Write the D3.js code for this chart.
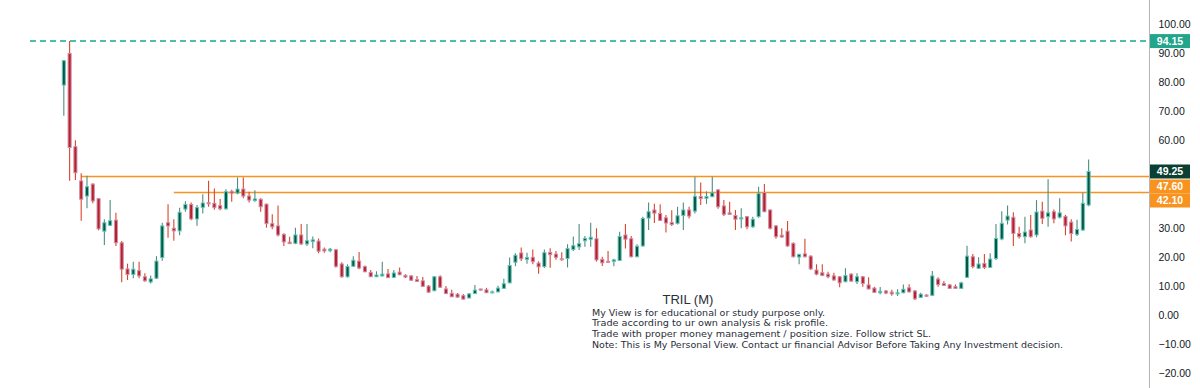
<!DOCTYPE html>
<html>
<head>
<meta charset="utf-8">
<script src="https://cdn.jsdelivr.net/npm/d3@7"></script>
<style>
  html, body { margin: 0; padding: 0; background: #ffffff; }
  svg { display: block; }
</style>
</head>
<body>
<div id="chart"></div>
<script>
// ---------------- DATA ----------------
const opens = [79.0,89.9,57.8,46.0,40.8,44.9,39.9,28.7,30.7,32.5,24.7,15.7,13.8,15.1,13.0,11.2,12.5,19.6,31.6,29.7,
28.8,36.3,37.9,32.9,36.9,38.5,38.3,37.5,36.4,42.4,41.8,43.2,40.8,39.2,39.7,38.0,31.3,30.5,27.6,24.9,
24.5,27.4,24.3,25.1,25.3,22.5,22.0,22.3,17.4,13.0,16.6,18.4,16.5,14.5,13.0,13.3,14.0,12.8,14.6,13.5,
13.3,12.0,11.6,9.8,8.2,13.0,8.8,7.3,7.0,6.5,5.7,7.2,8.8,8.5,7.5,7.8,9.0,10.9,18.0,21.2,
19.0,19.7,17.7,16.5,21.4,20.8,19.2,19.3,22.4,23.3,25.4,25.9,26.1,19.0,18.3,18.3,18.6,27.4,26.1,19.9,
23.6,33.2,36.0,34.8,33.3,31.7,31.4,34.1,36.0,35.6,40.6,40.0,40.6,42.9,37.4,35.0,34.1,32.9,33.7,30.2,
33.7,42.0,36.0,30.5,27.3,28.7,24.5,19.8,20.9,20.1,15.3,14.4,13.9,13.3,13.0,11.3,13.9,11.3,13.0,10.2,
9.1,7.5,8.1,7.7,7.1,7.5,9.2,8.1,5.9,6.7,6.6,12.2,10.7,10.2,9.6,9.0,12.8,19.9,15.9,17.6,
16.2,19.3,26.0,32.5,33.5,27.9,26.8,29.1,27.4,35.6,33.7,35.4,33.5,33.8,31.8,27.6,29.1,37.7];
const highs = [87.6,94.15,60.0,48.6,47.8,45.2,40.1,32.8,39.4,35.0,25.3,17.5,18.2,18.2,14.2,13.4,20.1,31.6,38.0,32.8,
36.8,39.0,38.6,37.7,41.4,46.1,43.4,39.8,43.1,43.0,47.2,47.2,42.3,42.8,40.0,38.2,34.5,37.5,28.0,26.8,
29.9,31.2,31.2,26.9,26.2,23.1,22.9,22.5,18.0,17.3,20.1,21.5,16.9,15.3,14.9,18.2,15.7,15.3,16.2,13.9,
13.5,13.3,12.9,10.2,13.3,13.5,9.8,8.5,7.4,7.1,7.3,10.2,8.9,9.2,8.3,9.9,12.3,19.6,21.1,23.1,
21.3,22.4,18.3,22.4,22.8,21.9,21.4,24.2,26.9,31.2,27.0,31.6,29.7,19.9,21.9,19.2,28.5,31.2,27.0,24.2,
33.7,38.6,38.1,38.0,34.3,35.9,37.1,38.6,37.1,47.4,45.5,42.4,47.4,43.1,39.4,38.8,36.0,36.6,33.9,33.7,
44.0,44.9,36.2,30.8,29.7,32.2,24.9,20.9,26.1,20.4,17.3,17.3,14.7,14.4,13.3,15.9,14.2,14.2,13.3,12.8,
9.6,9.5,8.4,8.5,8.7,10.3,10.4,8.4,7.5,7.0,15.0,12.8,11.5,10.4,10.3,11.3,23.7,20.8,19.7,20.8,
21.1,31.2,35.6,37.5,35.2,30.2,33.7,34.3,39.4,38.8,46.6,36.2,40.0,34.3,32.8,32.6,41.9,53.4];
const lows = [68.4,46.1,46.3,32.3,36.6,38.3,29.0,23.9,30.5,23.6,11.1,11.9,12.5,12.5,11.3,10.7,12.2,18.5,26.4,25.4,
27.3,35.4,32.5,30.6,34.8,37.1,36.1,35.9,36.1,38.8,41.4,40.0,38.6,38.8,35.4,29.9,29.4,26.9,23.6,24.3,
24.2,23.9,23.6,22.8,21.1,21.3,21.4,16.1,12.7,12.7,16.5,15.6,14.6,12.9,12.9,13.1,12.6,12.7,13.5,12.6,
11.6,11.3,9.6,7.5,8.0,9.1,7.1,6.0,5.8,5.2,5.6,7.1,8.3,7.4,7.2,7.7,8.9,10.8,16.6,18.4,
17.5,17.3,14.0,16.0,16.1,18.9,18.5,16.2,21.9,22.2,23.3,23.3,18.2,16.7,17.7,16.6,18.4,22.7,19.6,19.7,
23.3,29.1,31.5,32.2,28.2,30.5,31.0,29.1,33.1,34.8,37.7,38.1,40.4,36.4,33.9,34.3,29.1,29.7,29.4,29.9,
33.3,35.2,29.3,26.1,26.4,23.3,19.6,17.3,19.6,15.3,13.5,13.3,12.5,11.6,9.4,11.1,11.3,10.5,9.6,8.7,
7.5,7.0,7.0,6.5,6.4,7.3,7.6,5.0,5.7,6.1,6.4,9.6,9.8,8.8,8.9,8.8,12.6,15.9,15.7,15.7,
16.0,18.8,25.6,31.0,23.6,26.2,24.5,26.4,26.6,31.2,30.2,31.4,33.1,27.3,25.1,27.0,28.8,37.3];
const closes = [87.4,57.5,48.8,39.7,44.0,39.1,29.5,31.6,32.3,24.7,15.6,13.8,15.6,13.3,11.6,12.3,18.4,30.5,30.5,28.8,
35.2,37.9,32.9,36.8,38.4,38.1,36.8,36.4,42.3,41.8,43.2,40.8,39.4,39.8,37.1,31.3,30.2,27.4,25.0,24.4,
27.4,24.3,25.4,25.7,21.8,21.9,22.5,16.6,13.0,16.5,18.7,16.0,14.7,13.0,13.6,13.9,12.7,14.3,13.7,12.9,
11.8,11.4,9.7,7.7,13.0,9.4,7.2,6.1,6.0,5.3,7.1,8.4,8.4,7.5,7.8,9.1,10.6,16.9,20.4,19.2,
19.6,18.2,16.4,21.3,20.6,19.7,18.9,22.7,23.7,24.4,26.2,26.6,18.8,17.8,18.0,18.8,26.9,25.9,19.9,23.5,
33.1,35.4,34.9,32.4,31.5,31.0,34.0,36.0,33.9,40.7,39.9,40.6,41.9,37.1,34.5,34.5,32.8,33.3,30.2,32.8,
41.7,35.4,29.7,26.8,26.7,23.6,19.9,20.7,19.9,15.7,13.9,13.4,13.0,11.9,10.9,13.4,11.5,13.0,10.7,8.8,
7.6,8.0,7.4,7.1,7.5,8.7,7.8,5.4,7.0,6.3,13.3,10.3,10.0,9.0,9.0,10.9,20.1,16.5,17.4,16.2,
19.1,26.2,31.4,33.9,27.9,26.8,28.4,26.8,35.3,33.1,35.0,32.9,35.0,30.5,27.9,29.3,38.3,49.25];

const tickValues = [100, 90, 80, 70, 60, 30, 20, 10, 0, -10, -20];
const highLevel = 94.15;
const resistanceLevels = [47.60, 42.10];
const resistanceStartIdx = [3, 19];   // candle index where each line begins
const lastClose = 49.25;

const titleText = "TRIL (M)";
const noteLines = [
  "My View is for educational or study purpose only.",
  "Trade according to ur own analysis & risk profile.",
  "Trade with proper money management / position size. Follow strict SL.",
  "Note: This is My Personal View. Contact ur financial Advisor Before Taking Any Investment decision."
];
const noteWidths = [233, 236, 339, 471];

// ---------------- CHART ----------------
const W = 1200, H = 388;
const axisX = 1149.5;

const svg = d3.select("#chart").append("svg")
  .attr("width", W).attr("height", H)
  .style("font-family", "'Liberation Sans', Arial, sans-serif");

const n = opens.length;
const x = d3.scaleBand()
  .domain(d3.range(n))
  .range([61.8, 61.8 + 5.78 * n])
  .paddingInner(0.3);
const cx = i => x(i) + x.bandwidth() / 2;

const y = d3.scaleLinear().domain([-20, 100]).range([372.6, 24.1]);

const colors = {
  upBody: "#0a5546", upBorder: "#62c7b6", upWick: "#4f8c80",
  dnBody: "#bb1f26", dnBorder: "#cc90ad", dnWick: "#d9452a",
  orange: "#f7931e", teal: "#22a58b", darkGreen: "#0a3f33"
};

// Horizontal level lines
svg.append("line")
  .attr("x1", 30).attr("x2", axisX)
  .attr("y1", y(highLevel)).attr("y2", y(highLevel))
  .attr("stroke", "#4fbfa8").attr("stroke-width", 2)
  .attr("stroke-dasharray", "6,4");

svg.selectAll("line.res").data(resistanceLevels).join("line")
  .attr("class", "res")
  .attr("x1", (d, i) => cx(resistanceStartIdx[i]))
  .attr("x2", axisX)
  .attr("y1", d => Math.round(y(d)) + 0.5)
  .attr("y2", d => Math.round(y(d)) + 0.5)
  .attr("stroke", colors.orange).attr("stroke-width", 1.3);

// Candles
const idx = d3.range(n);
const isUp = i => closes[i] >= opens[i];

const g = svg.append("g");
g.selectAll("line.wick").data(idx).join("line")
  .attr("class", "wick")
  .attr("x1", i => cx(i)).attr("x2", i => cx(i))
  .attr("y1", i => y(highs[i])).attr("y2", i => y(lows[i]))
  .attr("stroke", i => isUp(i) ? colors.upWick : colors.dnWick)
  .attr("stroke-width", 1.1);

g.selectAll("rect.body").data(idx).join("rect")
  .attr("class", "body")
  .attr("x", i => x(i) + 0.5)
  .attr("width", x.bandwidth() - 1)
  .attr("y", i => y(Math.max(opens[i], closes[i])))
  .attr("height", i => Math.max(1, Math.abs(y(opens[i]) - y(closes[i]))))
  .attr("fill", i => isUp(i) ? colors.upBody : colors.dnBody)
  .attr("stroke", i => isUp(i) ? colors.upBorder : colors.dnBorder)
  .attr("stroke-width", 1);

// Right price axis
const axis = d3.axisRight(y).tickValues(tickValues).tickSize(0).tickPadding(9)
  .tickFormat(d3.format(".2f"));
const ax = svg.append("g").attr("transform", `translate(${axisX},0)`).call(axis);
ax.select(".domain").remove();
ax.selectAll("text").attr("fill", "#131722").style("font-size", "10.5px")
  .style("font-family", "'Liberation Sans', Arial, sans-serif")
  .attr("dy", "0.35em");
svg.append("line").attr("x1", axisX).attr("x2", axisX).attr("y1", 0).attr("y2", H)
  .attr("stroke", "#b2b5be").attr("stroke-width", 1);

// Price tags
const tags = [
  { v: highLevel, c: colors.teal, yc: y(highLevel) },
  { v: lastClose, c: colors.darkGreen, yc: 171.5 },
  { v: resistanceLevels[0], c: colors.orange, yc: 186.5 },
  { v: resistanceLevels[1], c: colors.orange, yc: 200.5 }
];
const tg = svg.selectAll("g.tag").data(tags).join("g").attr("class", "tag");
tg.append("rect")
  .attr("x", axisX + 0.5).attr("width", 40)
  .attr("y", d => d.yc - 7).attr("height", 14)
  .attr("fill", d => d.c);
tg.append("text")
  .attr("x", axisX + 20.5).attr("y", d => d.yc)
  .attr("dy", "0.36em").attr("text-anchor", "middle")
  .attr("fill", "#ffffff").style("font-size", "10.5px").style("font-weight", "bold")
  .text(d => d3.format(".2f")(d.v));

// Annotation text
svg.append("text")
  .attr("x", 662.5).attr("y", 304)
  .attr("fill", "#2a2e39").style("font-size", "13px")
  .text(titleText);

svg.selectAll("text.note").data(noteLines).join("text")
  .attr("class", "note")
  .attr("x", 592).attr("y", (d, i) => 315.5 + i * 10.7)
  .attr("fill", "#2a2e39")
  .style("font-family", "'DejaVu Sans', Verdana, sans-serif")
  .style("font-size", "9.4px")
  .attr("textLength", (d, i) => noteWidths[i])
  .attr("lengthAdjust", "spacingAndGlyphs")
  .text(d => d);
</script>
</body>
</html>
